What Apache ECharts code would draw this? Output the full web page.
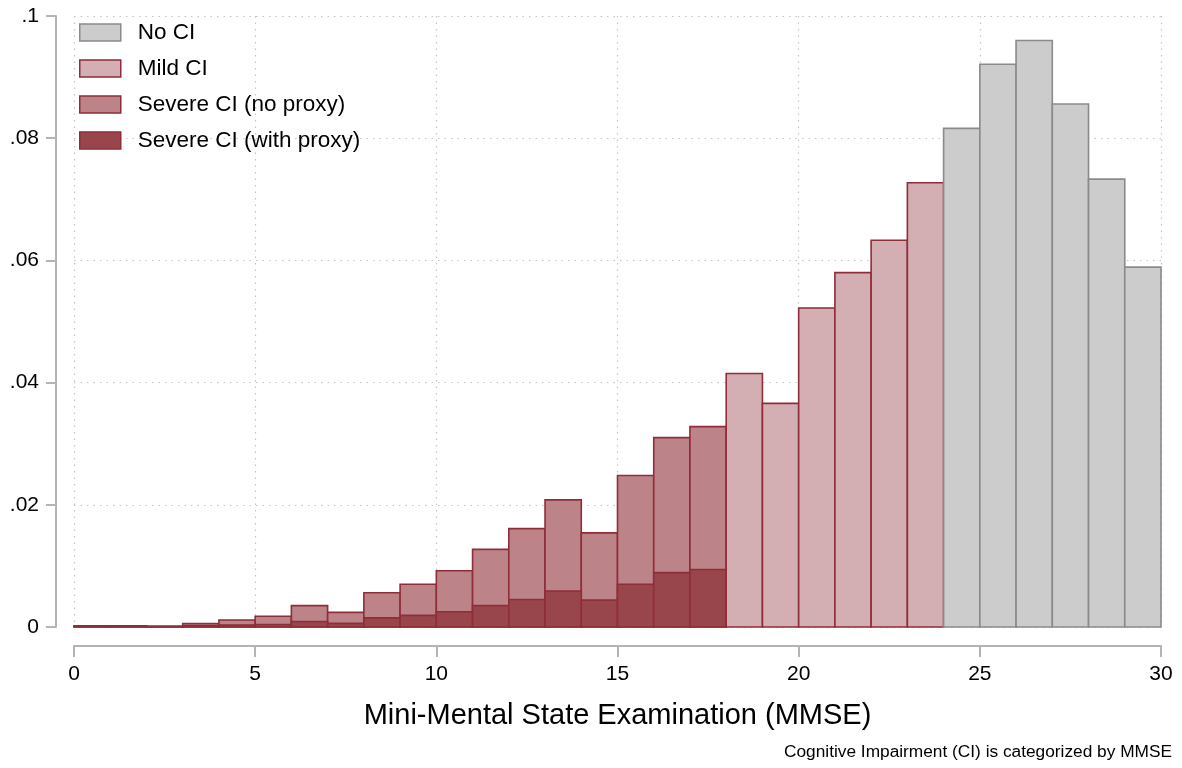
<!DOCTYPE html>
<html>
<head>
<meta charset="utf-8">
<script src="https://cdn.jsdelivr.net/npm/echarts@6/dist/echarts.min.js"></script>
<style>
html,body{margin:0;padding:0;background:#fff;}
#chart{width:1182px;height:768px;}
</style>
</head>
<body>
<div id="chart"></div>
<script>
// Bin start values (MMSE score bins of width 1)
const severeBins = [0,1,2,3,4,5,6,7,8,9,10,11,12,13,14,15,16,17];
const severeNoProxy = [0.0002,0.0002,0.0001,0.00055,0.00115,0.00175,0.0035,0.0024,0.0056,0.0070,0.0092,0.0127,0.0161,0.0208,0.0154,0.0248,0.0310,0.0328];
const severeWithProxy = [0.0001,0.0001,0.0001,0.0002,0.0003,0.0004,0.0009,0.0006,0.0015,0.0019,0.0025,0.0035,0.0045,0.0059,0.0044,0.0070,0.0089,0.0094];
const mildBins = [18,19,20,21,22,23];
const mildCI = [0.0415,0.0366,0.0522,0.0580,0.0633,0.0727];
const noCIBins = [24,25,26,27,28,29];
const noCI = [0.0816,0.0921,0.0960,0.0856,0.0733,0.0589];
const yTickLabels = ['0','.02','.04','.06','.08','.1'];
const seriesNames = ['No CI','Mild CI','Severe CI (no proxy)','Severe CI (with proxy)'];

const styles = {
  'No CI': {fill:'#cccccc', stroke:'#8a8a8a'},
  'Mild CI': {fill:'#d3aeb2', stroke:'#8f2d38'},
  'Severe CI (no proxy)': {fill:'#bc8488', stroke:'#8f2d38'},
  'Severe CI (with proxy)': {fill:'#99454c', stroke:'#8f2d38'}
};

function makeSeries(name, bins, vals){
  const st = styles[name];
  return {
    name: name,
    type: 'custom',
    data: bins.map((b,i)=>[b, vals[i]]),
    itemStyle: {color: st.fill, borderColor: st.stroke, borderWidth: 1.5},
    renderItem: function(params, api){
      const x0 = api.value(0), y = api.value(1);
      const pTop = api.coord([x0, y]);
      const pBot = api.coord([x0 + 1, 0]);
      return {
        type: 'rect',
        shape: {x: pTop[0], y: pTop[1], width: pBot[0]-pTop[0], height: pBot[1]-pTop[1]},
        style: {fill: st.fill, stroke: st.stroke, lineWidth: 1.6}
      };
    }
  };
}

const chart = echarts.init(document.getElementById('chart'), null, {renderer:'canvas'});
const font = 'Liberation Sans, Arial, Helvetica, sans-serif';
const dotted = {color:'#c4c4c4', width:1.2, type:[1.5,5]};
chart.setOption({
  backgroundColor: '#ffffff',
  animation: false,
  textStyle: {fontFamily: font},
  grid: {left: 74, right: 21, top: 16, bottom: 141},
  legend: {
    orient: 'vertical',
    left: 74, top: 16,
    itemWidth: 41, itemHeight: 17, itemGap: 13,
    icon: 'rect',
    data: seriesNames.map(n => ({name:n, itemStyle:{color:styles[n].fill, borderColor:styles[n].stroke, borderWidth:1.5}})),
    textStyle: {fontFamily: font, fontSize: 22.5, color:'#000', padding:[0,0,0,12]},
    selectedMode: false
  },
  xAxis: {
    type: 'value', min: 0, max: 30, interval: 5,
    offset: 19,
    name: 'Mini-Mental State Examination (MMSE)',
    nameLocation: 'middle', nameGap: 55,
    nameTextStyle: {fontFamily: font, fontSize: 29, color:'#000'},
    axisLine: {show: true, onZero: false, lineStyle: {color:'#b4b4b4', width: 2}},
    axisTick: {show: true, length: 11, lineStyle: {color:'#b4b4b4', width: 2}},
    axisLabel: {fontFamily: font, fontSize: 21, color:'#000', margin: 18},
    splitLine: {show: true, lineStyle: dotted}
  },
  yAxis: {
    type: 'value', min: 0, max: 0.1, interval: 0.02,
    offset: 18,
    axisLine: {show: true, onZero: false, lineStyle: {color:'#b4b4b4', width: 2}},
    axisTick: {show: true, length: 10, lineStyle: {color:'#b4b4b4', width: 2}},
    axisLabel: {fontFamily: font, fontSize: 21, color:'#000', margin: 17,
      formatter: v => yTickLabels[Math.round(v/0.02)]},
    splitLine: {show: true, lineStyle: dotted}
  },
  graphic: [{
    type: 'text', right: 10, bottom: 7,
    style: {text: 'Cognitive Impairment (CI) is categorized by MMSE', font: '17.3px ' + font, fill:'#000'}
  }],
  series: [
    makeSeries('Severe CI (no proxy)', severeBins, severeNoProxy),
    makeSeries('Severe CI (with proxy)', severeBins, severeWithProxy),
    makeSeries('Mild CI', mildBins, mildCI),
    makeSeries('No CI', noCIBins, noCI)
  ]
});
</script>
</body>
</html>
